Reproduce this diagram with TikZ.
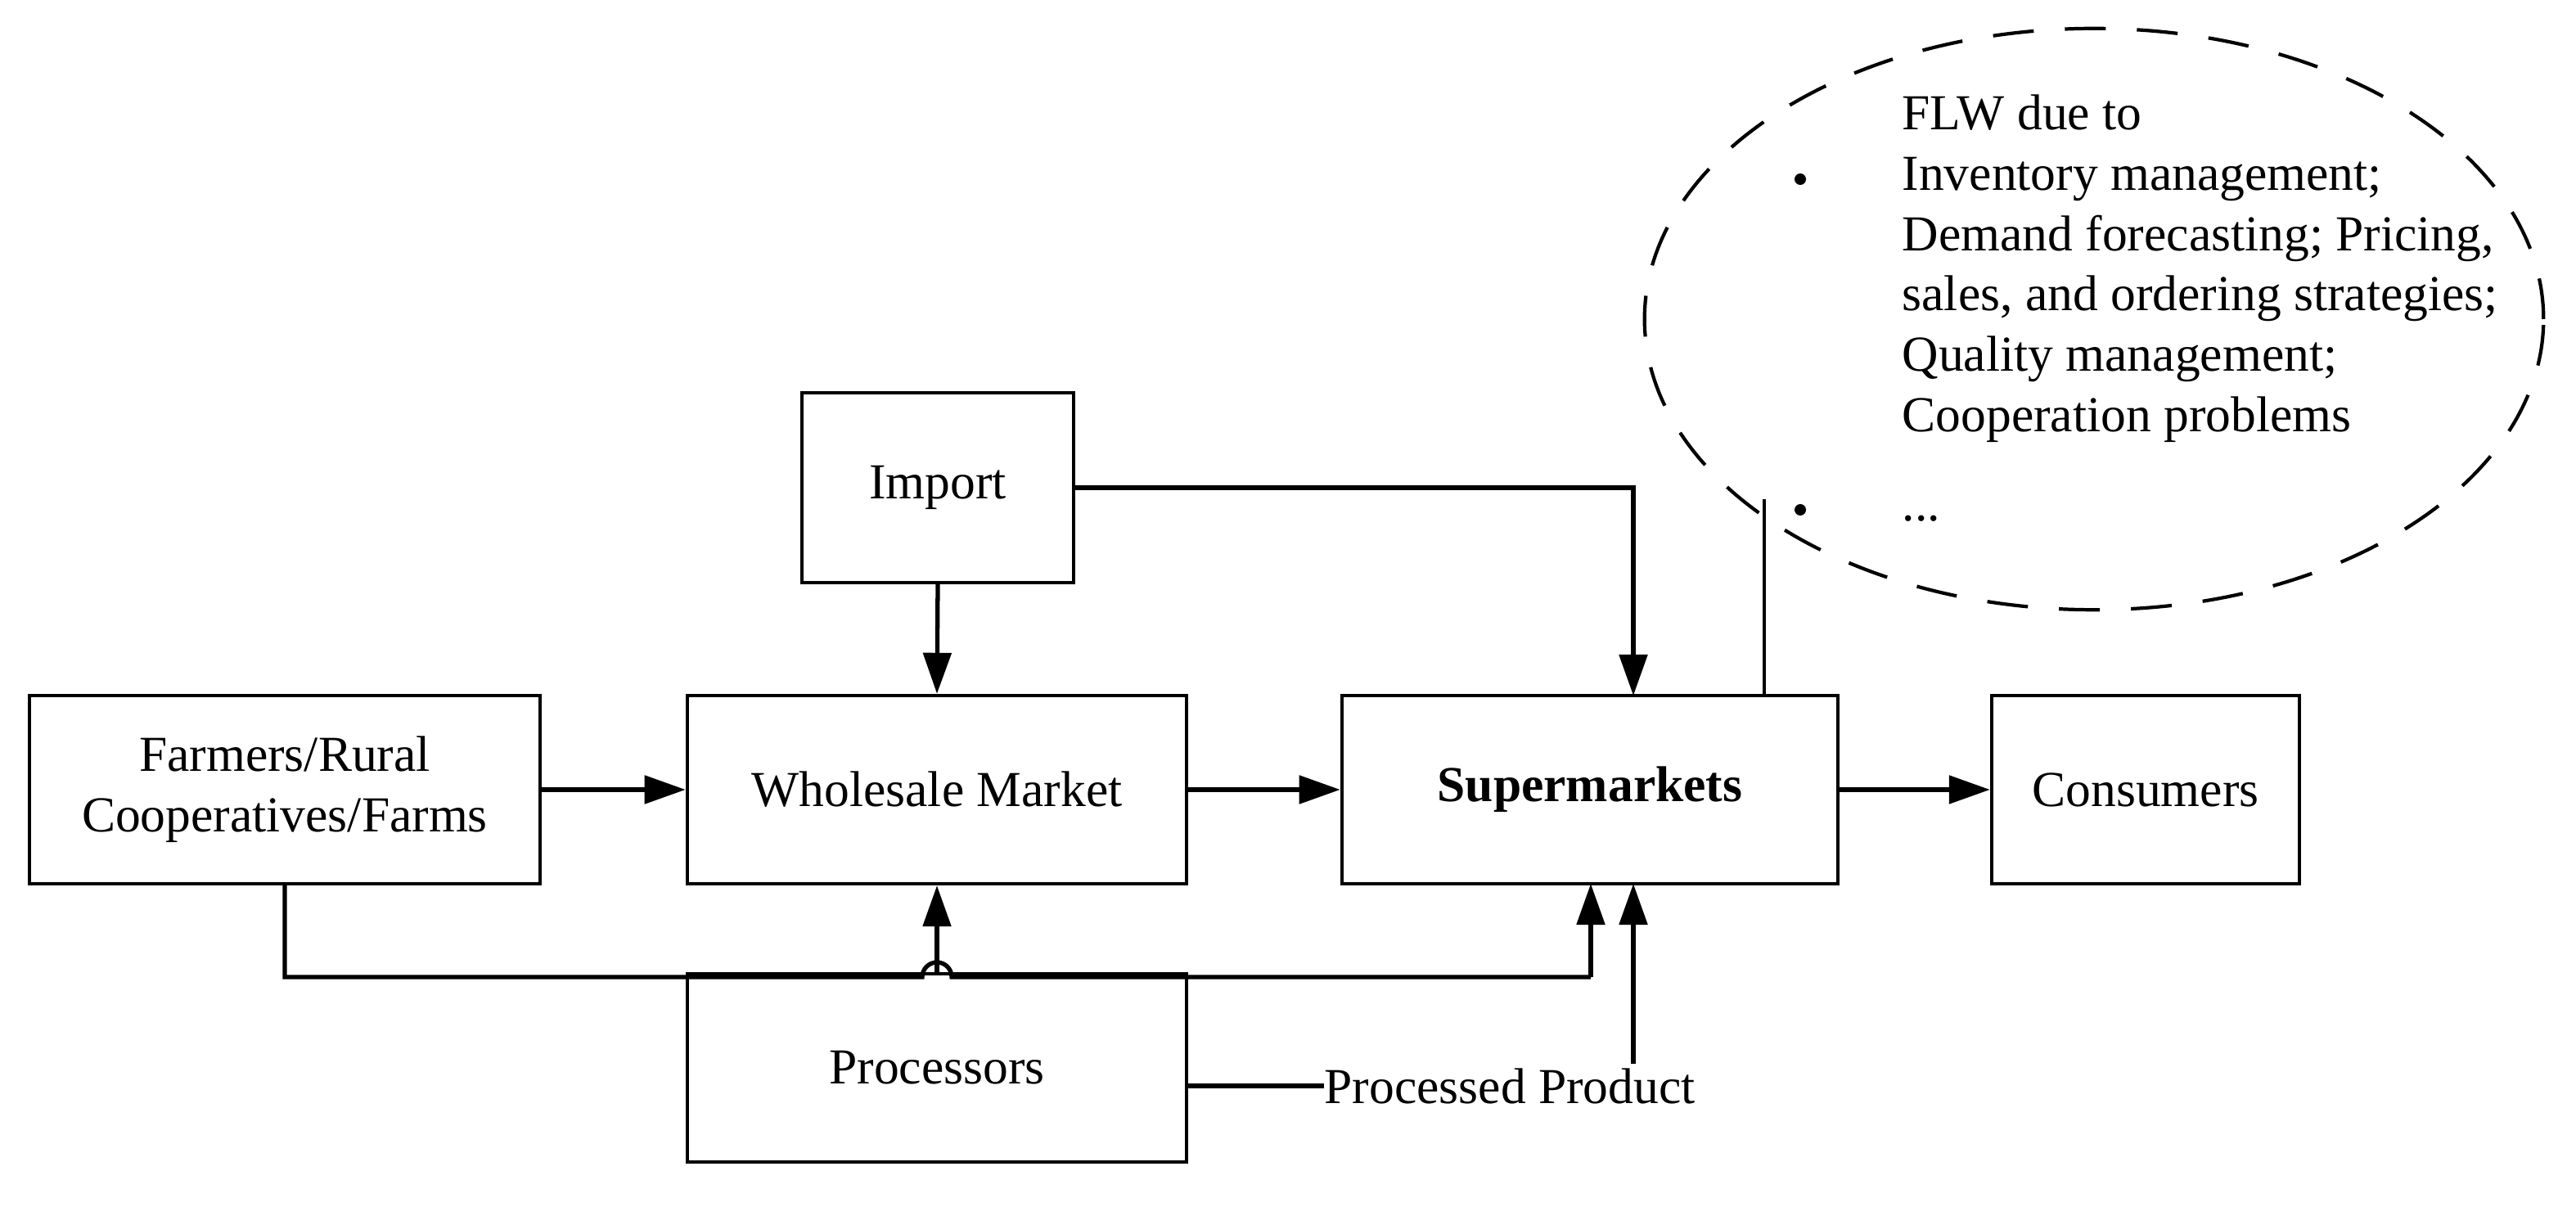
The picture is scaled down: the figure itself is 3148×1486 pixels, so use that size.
\documentclass[tikz,border=0pt]{standalone}
\usepackage{fontspec}
\setmainfont{Liberation Serif}
\usetikzlibrary{arrows.meta,shapes.geometric}
\begin{document}
\begin{tikzpicture}[x=0.01cm,y=-0.01cm,
  box/.style={draw,line width=1.2pt,minimum height=2.3cm,align=center,font=\fontsize{17.5}{21}\selectfont},
  arr/.style={line width=1.5pt,-{Triangle[length=0.5cm,width=0.34cm]}},
  ln/.style={line width=1.5pt}]
\useasboundingbox (0,0) rectangle (3148,1486);
\node[box,minimum width=6.24cm] (farm) at (348,965) {Farmers/Rural\\Cooperatives/Farms};
\node[box,minimum width=6.1cm] (whole) at (1145,965) {Wholesale Market};
\node[box,minimum width=6.06cm] (super) at (1943,965) {\textbf{Supermarkets}};
\node[box,minimum width=3.76cm] (cons) at (2622,965) {Consumers};
\node[box,minimum width=3.32cm,minimum height=2.32cm] (imp) at (1146,596) {Import};
\node[box,minimum width=6.1cm] (proc) at (1145,1305) {Processors};
\node[draw,line width=1.2pt,dash pattern=on 0.5cm off 0.38cm,ellipse,minimum width=10.98cm,minimum height=7.1cm,inner sep=0] (ell) at (2559,390) {};
\node[anchor=north west,align=left,font=\fontsize{17.5}{21}\selectfont,inner sep=0] (txt) at (2324,115) {FLW due to\\Inventory management;\\Demand forecasting; Pricing,\\sales, and ordering strategies;\\Quality management;\\Cooperation problems\\[10pt]...};
\fill (2200,219) circle (7);
\fill (2200,623) circle (7);
\node[font=\fontsize{17.5}{21}\selectfont,anchor=west,inner sep=0] (pp) at (1618,1327) {Processed Product};
\coordinate (fc) at (348,1194);
\coordinate (sc) at (1944,1194);
% connectors
\draw[arr] (farm.east) -- (whole.west);
\draw[arr] (whole.east) -- (super.west);
\draw[arr] (super.east) -- (cons.west);
\draw[arr] (imp.south) -- (whole.north);
\draw[arr] (imp.east) -- (1996,596) -- (1996,850);
\draw[line width=1.2pt] (2156,850) -- (2156,610);
\draw[ln] (farm.south) -- (fc) -- (1127,1194) arc (180:360:18) -- (sc);
\draw[arr] (sc) -- (1944,1080);
\draw[arr] (proc.north) -- (whole.south);
\draw[ln] (proc.east |- pp.west) -- (pp.west);
\draw[arr] (1996,1300) -- (1996,1080);
\end{tikzpicture}
\end{document}
